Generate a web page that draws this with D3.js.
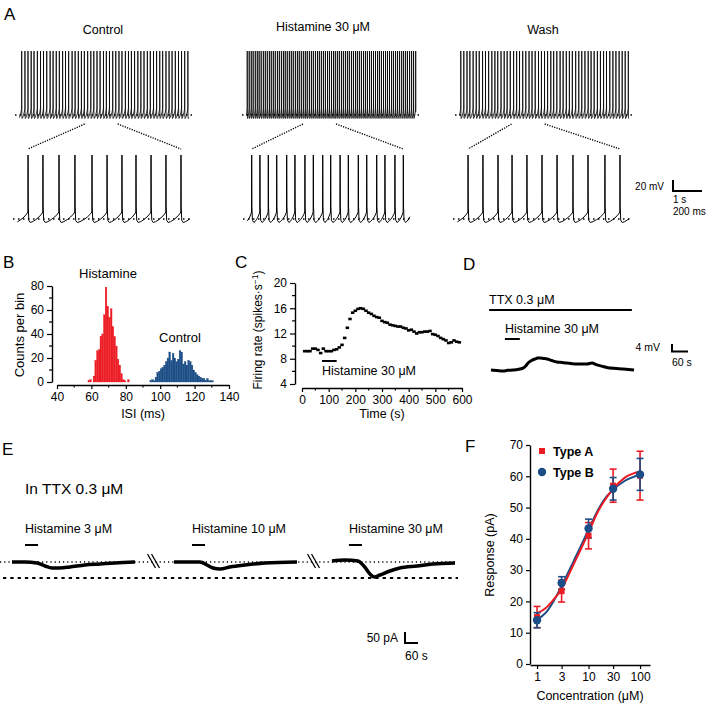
<!DOCTYPE html>
<html><head><meta charset="utf-8">
<script src="https://cdn.jsdelivr.net/npm/d3@7/dist/d3.min.js"></script>
<style>body{margin:0;background:#fff;} svg{display:block;}</style>
</head><body><svg id="fig" width="709" height="705"></svg>
<script>
// ================= DATA =================
// Panel A : inter-spike intervals (ms) of the long traces, spike times (ms) of the zoomed traces
const panelATitles = ["Control", "Histamine 30 μM", "Wash"];
const controlTopISI = [112,105,110,98,115,108,104,111,117,102,109,106,113,100,108,119,104,110,107,101,114,109,103,111,106,116,99,108,112,105,110,103,118,107,101,109,113,104,108,115,102,111,106,109,100,114,107,103,112,110,105,108,110,104];
const histTopISI = [68,71,66,73,69,64,70,75,67,69,72,65,70,68,74,66,71,69,63,70,72,68,67,73,69,65,71,70,68,66,74,69,67,72,70,65,69,71,68,73,66,70,69,64,71,68,72,67,70,69,66,73,68,71,65,70,69,72,67,68,74,66,70,69,71,65,68,72,70,67,69,73,66,71,68,70,72,67,69,65,71,70,68,73,66,69];
const washTopISI = [104,110,99,112,107,103,115,101,108,111,105,98,113,109,102,107,116,104,100,110,106,112,103,109,114,101,107,105,111,99,108,113,104,110,106,102,115,107,103,109,112,100,106,111,105,108,101,114,107,104,110,106,103,108];
const topFirstSpike = [231, 180, 200];
const controlZoomSpikes = [104,207,318,428,546,650,753,850,954,1057,1161];
const histZoomSpikes = [60,117,175,233,302,359,428,486,551,606,671,728,797,855,924,981,1050,1108];
const washZoomSpikes = [104,207,311,408,511,615,719,829,933,1050,1154];
const zoomWindowStart = [2400, 2100, 1950];   // ms in the long trace
// spike waveform template: [ms from peak, mV], ramp template: [fraction of interval, mV]
const spikeShape = [[-1.2,-48],[0,50],[1.5,-38],[5,-62],[15,-66]];
const rampShape = [[0.2,-64.5],[0.45,-61],[0.7,-56.5],[0.9,-51.5]];

// Panel B : ISI histogram (1 ms bins)
const histamineBins = [58,59,60,61,62,63,64,65,66,67,68,69,70,71,72,73,74,75,76,77,78,79,80,81];
const histamineCounts = [1,2,0,5,18,26,27,38,40,56,79,63,54,61,46,38,30,19,14,7,2,1,0,2];
const controlBins = [94,95,96,97,98,99,100,101,102,103,104,105,106,107,108,109,110,111,112,113,114,115,116,117,118,119,120,121,122,123,124,125,126,127,128,129,130];
const controlCounts = [1,2,1,4,8,9,11,12,14,17,20,25,18,24,20,17,19,26,25,15,17,14,18,17,14,10,8,6,5,4,3,3,1,3,1,1,1];
const bTicksX = [40,60,80,100,120,140];
const bMinorX = [50,70,90,110,130];
const bTicksY = [0,20,40,60,80];
const bMinorY = [10,30,50,70];

// Panel C : firing rate time course
const cTimes = [10,20,30,40,50,60,70,80,90,100,110,120,130,140,150,160,170,180,190,200,210,220,230,240,250,260,270,280,290,300,310,320,330,340,350,360,370,380,390,400,410,420,430,440,450,460,470,480,490,500,510,520,530,540,550,560,570,580,590];
const cRates = [9.2,9.2,9.2,9.6,9.6,9.4,8.9,9.6,9.2,9.2,9.2,9.4,9.5,9.8,10.2,11.3,12.9,14.3,15.3,15.6,15.9,16.0,15.9,15.6,15.3,15.1,14.8,14.6,14.5,14.0,13.8,13.7,13.4,13.3,13.2,13.1,13.1,12.9,12.8,12.5,12.6,12.3,12.0,12.2,12.2,12.3,12.3,12.4,11.9,11.8,11.6,11.3,11.1,10.9,10.5,10.6,10.9,10.7,10.6];
const cTicksX = [0,100,200,300,400,500,600];
const cMinorX = [50,150,250,350,450,550];
const cTicksY = [4,8,12,16,20];
const cMinorY = [6,10,14,18];
const cHistamine = [75, 130];

// Panel D : membrane potential in TTX (s, mV from baseline)
const dTimes = [0,22,45,62,82,100,120,130,139,152,165,175,184,197,210,228,247,266,285,304,322,340,360,378,397,420,446,470,494,515,536];
const dVolts = [0,-0.3,-0.6,-0.2,0,0.3,1.1,2.3,4.0,5.4,6.3,6.8,6.9,6.6,6.3,5.4,4.6,4.3,4.0,3.6,3.4,3.5,3.4,4.0,2.9,2.0,1.1,0.9,0.6,0.3,0];
const dTTX = [-7, 528];
const dHistamine = [52, 108];

// Panel E : currents in TTX (s from segment start, pA)
const eLabels = ["Histamine 3 μM", "Histamine 10 μM", "Histamine 30 μM"];
const eTimes = [
  [0,60,115,152,184,221,267,336,406,475,567],
  [0,74,120,152,180,212,258,327,419,567],
  [0,60,120,147,175,194,221,267,313,392,465,567]
];
const eCurrents = [
  [0,0,-5,-20,-30,-30,-25,-15,-10,-5,0],
  [0,0,0,-15,-30,-35,-25,-15,-5,0],
  [5,10,5,-20,-60,-75,-65,-45,-30,-20,-10,-5]
];
const eHistamine = [[60,120],[83,143],[78,138]];

// Panel F : concentration-response
const conc = [1,3,10,30,100];
const typeAMean = [15,23.3,41,57,60.2];
const typeAErr = [3.4,3.5,4.2,5.3,7.8];
const typeBMean = [14,25.9,43.3,56,60.6];
const typeBErr = [2.4,2,3,3.6,5.1];
const fitConc = [1,1.5,2,3,5,7,10,15,20,30,50,100];
const fitA = [16.2,18,20.2,24,31.5,36.5,42,48.5,52,56,59.5,61.5];
const fitB = [14.2,16.5,19.5,25,32.5,37.5,43,49,52.5,55.7,58.5,60.5];
const fTicksY = [0,10,20,30,40,50,60,70];

// ================= DRAWING =================
const FONT = 'Arial, "Liberation Sans", Helvetica, sans-serif';
const RED = "#ec1c24", BLUE = "#1b4d86";
const svg = d3.select("#fig").attr("font-family", FONT);
svg.append("rect").attr("width", 709).attr("height", 705).attr("fill", "#fff");

function txt(x, y, s, size, anchor, extra) {
  const t = svg.append("text").attr("x", x).attr("y", y).attr("font-size", size)
    .attr("text-anchor", anchor || "start").attr("fill", "#000").text(s);
  if (extra) extra(t);
  return t;
}
function line(x1, y1, x2, y2, w, dash) {
  const l = svg.append("line").attr("x1", x1).attr("y1", y1).attr("x2", x2).attr("y2", y2)
    .attr("stroke", "#000").attr("stroke-width", w || 1);
  if (dash) l.attr("stroke-dasharray", dash);
  return l;
}
function styleAxis(g, fs) {
  g.selectAll("text").attr("font-size", fs || 12).attr("font-family", FONT).attr("fill", "#000");
  g.selectAll(".tick line").attr("stroke", "#000").attr("stroke-width", 1.2);
  g.select(".domain").attr("stroke", "#000").attr("stroke-width", 1.4);
}

// panel letters
[["A",4,20],["B",3,268],["C",235,268],["D",463,270],["E",2,455],["F",465,452]].forEach(d => txt(d[1], d[2], d[0], 17));

// ---------- Panel A ----------
function buildWave(spikes, t0, t1) {
  const n = spikes.length;
  const all = [spikes[0] - (spikes[1] - spikes[0])].concat(spikes, [spikes[n-1] + (spikes[n-1] - spikes[n-2])]);
  const pts = [];
  for (let i = 0; i < all.length - 1; i++) {
    const ts = all[i], tn = all[i+1];
    spikeShape.forEach(([dt, v]) => pts.push([ts + dt, v]));
    const a = ts + spikeShape[spikeShape.length-1][0], b = tn + spikeShape[0][0];
    rampShape.forEach(([f, v]) => pts.push([a + f * (b - a), v]));
  }
  const out = [];
  for (let i = 0; i < pts.length; i++) {
    const p = pts[i];
    if (p[0] < t0) {
      const q = pts[i+1];
      if (q && q[0] >= t0) out.push([t0, p[1] + (q[1]-p[1]) * (t0-p[0])/(q[0]-p[0])]);
      continue;
    }
    if (p[0] > t1) {
      const q = pts[i-1];
      if (q && q[0] <= t1) out.push([t1, q[1] + (p[1]-q[1]) * (t1-q[0])/(p[0]-q[0])]);
      break;
    }
    out.push(p);
  }
  return out;
}
const topISIs = [controlTopISI, histTopISI, washTopISI];
const zoomSpikes = [controlZoomSpikes, histZoomSpikes, washZoomSpikes];
const topLeft = [15, 242, 455];
const lowLeft = [13, 243, 453];
const lowWidth = [179, 169, 178];
const titleX = [103, 323, 543];
const titleY = [34, 31, 34];
const yTop = d3.scaleLinear().domain([-60, 50]).range([115, 51]);
const yLow = d3.scaleLinear().domain([-60, 50]).range([219, 155]);

for (let k = 0; k < 3; k++) {
  txt(titleX[k], titleY[k], panelATitles[k], 12.5, "middle");
  const xT = d3.scaleLinear().domain([0, 6100]).range([topLeft[k], topLeft[k] + 177]);
  const spikes = [topFirstSpike[k]];
  topISIs[k].forEach(d => spikes.push(spikes[spikes.length-1] + d));
  const wTop = buildWave(spikes, 150, 5990);
  line(xT(0), 115, xT(6100), 115, 1.5, "1.5,3");
  svg.append("path").attr("d", d3.line().x(d => xT(d[0])).y(d => yTop(d[1]))(wTop))
    .attr("fill", "none").attr("stroke", "#000").attr("stroke-width", 0.8);

  const xL = d3.scaleLinear().domain([0, lowWidth[k] / 0.1447]).range([lowLeft[k], lowLeft[k] + lowWidth[k]]);
  const zs = zoomSpikes[k];
  line(xL.range()[0], 219, xL.range()[1], 219, 1.6, "1.5,3.5");
  const wLow = buildWave(zs, 30, xL.domain()[1] - 15);
  svg.append("path").attr("d", d3.line().x(d => xL(d[0])).y(d => yLow(d[1]))(wLow))
    .attr("fill", "none").attr("stroke", "#000").attr("stroke-width", 1);

  // connectors
  const zt = zoomWindowStart[k];
  line(xT(zt), 124, xL(zs[0]), 149, 1.4, "1.2,1.3");
  line(xT(zt + 1140), 124, xL(zs[zs.length-1]), 149, 1.4, "1.2,1.3");
}
// scale bar A
line(673, 180, 673, 192, 2); line(672, 191, 702, 191, 2);
txt(664, 190, "20 mV", 10, "end");
txt(673, 203, "1 s", 10);
txt(673, 215, "200 ms", 10);

// ---------- Panel B ----------
const xB = d3.scaleLinear().domain([40, 140]).range([57, 229]);
const yB = d3.scaleLinear().domain([0, 80]).range([382, 286]);
function bars(bins, counts, color) {
  svg.append("g").selectAll("rect").data(bins.map((b, i) => [b, counts[i]])).join("rect")
    .attr("x", d => xB(d[0])).attr("width", d => xB(d[0] + 1) - xB(d[0]))
    .attr("y", d => yB(d[1])).attr("height", d => yB(0) - yB(d[1]))
    .attr("fill", color).attr("stroke", color).attr("stroke-width", 0.3);
}
bars(histamineBins, histamineCounts, RED);
bars(controlBins, controlCounts, BLUE);
let g = svg.append("g").attr("transform", "translate(0,385)")
  .call(d3.axisBottom(xB).tickValues(bTicksX).tickSize(4).tickSizeOuter(0));
styleAxis(g, 12);
bMinorX.forEach(v => line(xB(v), 385, xB(v), 387.5, 1.2));
g = svg.append("g").attr("transform", "translate(52,0)")
  .call(d3.axisLeft(yB).tickValues(bTicksY).tickSize(5).tickSizeOuter(0));
styleAxis(g, 12);
bMinorY.forEach(v => line(52, yB(v), 49, yB(v), 1.2));
txt(108, 278, "Histamine", 13, "middle");
txt(180, 342, "Control", 13, "middle");
txt(143, 418, "ISI (ms)", 12.5, "middle");
txt(0, 0, "Counts per bin", 13, "middle", t => t.attr("transform", "translate(24,335) rotate(-90)"));

// ---------- Panel C ----------
const xC = d3.scaleLinear().domain([0, 600]).range([302, 462]);
const yC = d3.scaleLinear().domain([4, 20]).range([384, 283]);
g = svg.append("g").attr("transform", "translate(0,388)")
  .call(d3.axisBottom(xC).tickValues(cTicksX).tickSize(4).tickSizeOuter(0));
styleAxis(g, 12);
cMinorX.forEach(v => line(xC(v), 388, xC(v), 390.5, 1.2));
g = svg.append("g").attr("transform", "translate(295,0)")
  .call(d3.axisLeft(yC).tickValues(cTicksY).tickSize(5).tickSizeOuter(0));
styleAxis(g, 12);
cMinorY.forEach(v => line(295, yC(v), 292, yC(v), 1.2));
svg.append("g").selectAll("rect").data(cTimes.map((t, i) => [t, cRates[i]])).join("rect")
  .attr("x", d => xC(d[0]) - 1.75).attr("y", d => yC(d[1]) - 1.3)
  .attr("width", 3.5).attr("height", 2.6).attr("fill", "#000");
line(xC(cHistamine[0]), 361, xC(cHistamine[1]), 361, 2);
txt(322, 375, "Histamine 30 μM", 12.5);
txt(382, 418, "Time (s)", 12.5, "middle");
txt(0, 0, "", 12, "middle", t => {
  t.attr("transform", "translate(262,330) rotate(-90)");
  t.append("tspan").text("Firing rate (spikes·s");
  t.append("tspan").attr("dy", -4).attr("font-size", 8.5).text("−1");
  t.append("tspan").attr("dy", 4).text(")");
});

// ---------- Panel D ----------
const xD = d3.scaleLinear().domain([0, 536]).range([491, 634]);
const yD = d3.scaleLinear().domain([0, 4]).range([370, 363]);
txt(489, 304, "TTX 0.3 μM", 12.5);
line(xD(dTTX[0]), 310, xD(dTTX[1]), 310, 2);
txt(505, 333, "Histamine 30 μM", 12.5);
line(xD(dHistamine[0]), 339, xD(dHistamine[1]), 339, 2);
svg.append("path").attr("d", d3.line().curve(d3.curveMonotoneX).x((d, i) => xD(dTimes[i])).y(d => yD(d))(dVolts))
  .attr("fill", "none").attr("stroke", "#000").attr("stroke-width", 3).attr("stroke-linejoin", "round");
line(672, 344, 672, 352, 2); line(671, 351.5, 688, 351.5, 2);
txt(660, 351, "4 mV", 10.5, "end");
txt(672, 366, "60 s", 10.5);

// ---------- Panel E ----------
const segStart = [12, 174, 332];
const yE = d3.scaleLinear().domain([0, -50]).range([562, 572]);
txt(25, 494, "In TTX 0.3 μM", 15.5);
line(0, 562, 456, 562, 1.3, "1.2,3");
line(3, 578, 458, 578, 1.8, "3.3,4");
for (let k = 0; k < 3; k++) {
  const xE = d3.scaleLinear().domain([0, 567]).range([segStart[k], segStart[k] + 123]);
  txt(xE(eHistamine[k][0]), 533, eLabels[k], 12.5);
  line(xE(eHistamine[k][0]), 545, xE(eHistamine[k][1]), 545, 2);
  svg.append("path").attr("d", d3.line().curve(d3.curveMonotoneX).x((d, i) => xE(eTimes[k][i])).y(d => yE(d))(eCurrents[k]))
    .attr("fill", "none").attr("stroke", "#000").attr("stroke-width", 3.5).attr("stroke-linejoin", "round");
  if (k < 2) {
    const cx = (segStart[k] + 123 + segStart[k+1]) / 2;
    line(cx - 7, 554, cx + 1, 568, 1.3);
    line(cx - 3, 554, cx + 5, 568, 1.3);
  }
}
line(405, 632, 405, 644, 2); line(404, 643, 418, 643, 2);
txt(398, 642, "50 pA", 12, "end");
txt(405, 660, "60 s", 12);

// ---------- Panel F ----------
const xF = d3.scaleLog().domain([0.73, 156]).range([530, 650]);
const yF = d3.scaleLinear().domain([0, 70]).range([664, 445]);
g = svg.append("g").attr("transform", "translate(0,665)")
  .call(d3.axisBottom(xF).tickValues(conc).tickFormat(d3.format("d")).tickSize(4).tickSizeOuter(0));
styleAxis(g, 12);
g = svg.append("g").attr("transform", "translate(530,0)")
  .call(d3.axisLeft(yF).tickValues(fTicksY).tickSize(4).tickSizeOuter(0));
styleAxis(g, 12);
const fLine = d3.line().curve(d3.curveMonotoneX).x((d, i) => xF(fitConc[i])).y(d => yF(d));
svg.append("path").attr("d", fLine(fitB)).attr("fill", "none").attr("stroke", BLUE).attr("stroke-width", 2);
svg.append("path").attr("d", fLine(fitA)).attr("fill", "none").attr("stroke", RED).attr("stroke-width", 2);
function errBars(means, errs, color) {
  conc.forEach((c, i) => {
    const x = xF(c);
    svg.append("line").attr("x1", x).attr("x2", x).attr("y1", yF(means[i] - errs[i])).attr("y2", yF(means[i] + errs[i]))
      .attr("stroke", color).attr("stroke-width", 1.6);
    [means[i] - errs[i], means[i] + errs[i]].forEach(v =>
      svg.append("line").attr("x1", x - 3.5).attr("x2", x + 3.5).attr("y1", yF(v)).attr("y2", yF(v))
        .attr("stroke", color).attr("stroke-width", 1.6));
  });
}
errBars(typeAMean, typeAErr, RED);
errBars(typeBMean, typeBErr, BLUE);
svg.append("g").selectAll("rect").data(typeAMean).join("rect")
  .attr("x", (d, i) => xF(conc[i]) - 3).attr("y", d => yF(d) - 3).attr("width", 6).attr("height", 6).attr("fill", RED);
svg.append("g").selectAll("circle").data(typeBMean).join("circle")
  .attr("cx", (d, i) => xF(conc[i])).attr("cy", d => yF(d)).attr("r", 4.2).attr("fill", BLUE);
svg.append("rect").attr("x", 539).attr("y", 448).attr("width", 6).attr("height", 6).attr("fill", RED);
svg.append("circle").attr("cx", 542).attr("cy", 472).attr("r", 4.2).attr("fill", BLUE);
txt(553, 456, "Type A", 12.5, "start", t => t.attr("font-weight", "bold"));
txt(553, 477, "Type B", 12.5, "start", t => t.attr("font-weight", "bold"));
txt(590, 700, "Concentration (μM)", 12.5, "middle");
txt(0, 0, "Response (pA)", 12.5, "middle", t => t.attr("transform", "translate(494,555) rotate(-90)"));
</script>
</body></html>
